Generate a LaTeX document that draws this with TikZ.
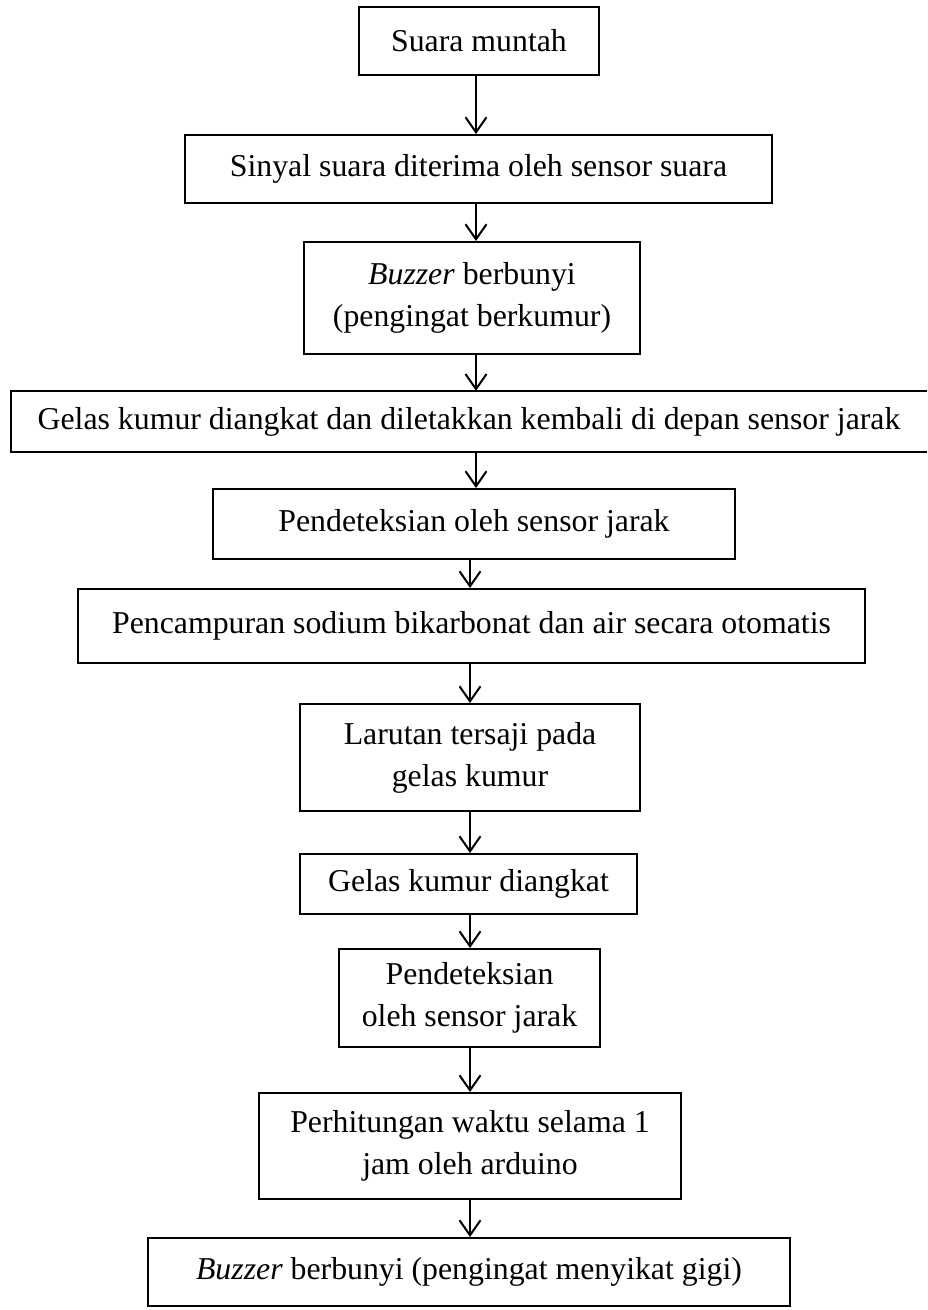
\documentclass[tikz,border=0pt]{standalone}
\usepackage{fontspec}
\setmainfont{Liberation Serif}
\usetikzlibrary{arrows.meta}
\begin{document}
\begin{tikzpicture}[x=1pt,y=-1pt,
  flowbox/.style={draw,line width=2pt,inner sep=0pt,align=center,
    font=\fontsize{31.8}{42}\selectfont},
  opentext/.style={inner sep=0pt,align=center,font=\fontsize{31.8}{42}\selectfont},
  arr/.style={line width=2pt,-{Straight Barb[length=15pt,width=21pt]}}]
\useasboundingbox (0,0) rectangle (927,1310);
\node[flowbox,minimum width=240pt,minimum height=68pt] (n1) at (479,41) {Suara muntah};
\node[flowbox,minimum width=587pt,minimum height=68pt] (n2) at (478.5,169) {Sinyal suara diterima oleh sensor suara};
\node[flowbox,minimum width=336pt,minimum height=112pt] (n3) at (472,298) {\textit{Buzzer} berbunyi\\(pengingat berkumur)};
\node[opentext,minimum width=916pt,minimum height=61pt] (n4) at (469,421.5) {Gelas kumur diangkat dan diletakkan kembali di depan sensor jarak};
\draw[line width=2pt] (n4.north east) -- (n4.north west) -- (n4.south west) -- (n4.south east);
\node[flowbox,minimum width=522pt,minimum height=70pt] (n5) at (474,524) {Pendeteksian oleh sensor jarak};
\node[flowbox,minimum width=787pt,minimum height=74pt] (n6) at (471.5,626) {Pencampuran sodium bikarbonat dan air secara otomatis};
\node[flowbox,minimum width=340pt,minimum height=107pt] (n7) at (470,757.5) {Larutan tersaji pada\\gelas kumur};
\node[flowbox,minimum width=337pt,minimum height=60pt] (n8) at (468.5,884) {Gelas kumur diangkat};
\node[flowbox,minimum width=261pt,minimum height=98pt] (n9) at (469.5,998) {Pendeteksian\\oleh sensor jarak};
\node[flowbox,minimum width=422pt,minimum height=106pt] (n10) at (470,1146) {Perhitungan waktu selama 1\\jam oleh arduino};
\node[flowbox,minimum width=642pt,minimum height=68pt] (n11) at (469,1272) {\textit{Buzzer} berbunyi (pengingat menyikat gigi)};
\coordinate (c1) at (476,0);
\coordinate (c2) at (470,0);
\draw[arr] (n1.south -| c1) -- (n2.north -| c1);
\draw[arr] (n2.south -| c1) -- (n3.north -| c1);
\draw[arr] (n3.south -| c1) -- (n4.north -| c1);
\draw[arr] (n4.south -| c1) -- (n5.north -| c1);
\draw[arr] (n5.south -| c2) -- (n6.north -| c2);
\draw[arr] (n6.south -| c2) -- (n7.north -| c2);
\draw[arr] (n7.south -| c2) -- (n8.north -| c2);
\draw[arr] (n8.south -| c2) -- (n9.north -| c2);
\draw[arr] (n9.south -| c2) -- (n10.north -| c2);
\draw[arr] (n10.south -| c2) -- (n11.north -| c2);
\end{tikzpicture}
\end{document}
